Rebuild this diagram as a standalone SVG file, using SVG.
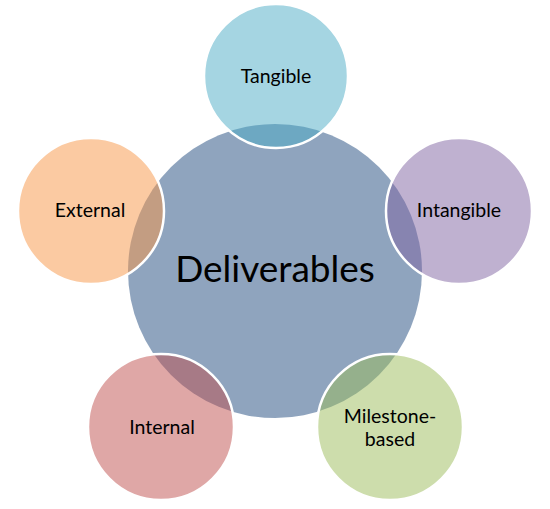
<svg xmlns="http://www.w3.org/2000/svg" width="550" height="509" viewBox="0 0 550 509">
<style>
.sat{stroke:#fff;stroke-width:2.5;fill-opacity:0.5}
.t{font-family:Lato,"Open Sans","Liberation Sans",sans-serif;font-size:19.5px;fill:#000;text-anchor:middle}
.big{font-family:Lato,"Open Sans","Liberation Sans",sans-serif;font-size:37px;fill:#000;text-anchor:middle}
</style>
<rect width="550" height="509" fill="#fff"/>
<g id="deliverables">
<circle cx="275" cy="271" r="147" fill="#1F497D" fill-opacity="0.5"/>
<text class="big" x="275" y="282">Deliverables</text>
</g>
<g id="connectors"></g>
<g id="tangible">
<circle class="sat" cx="276" cy="76" r="72" fill="#4BACC6"/>
<text class="t" x="276" y="83">Tangible</text>
</g>
<g id="intangible">
<circle class="sat" cx="459" cy="211" r="73" fill="#8064A2"/>
<text class="t" x="459" y="217">Intangible</text>
</g>
<g id="milestone">
<circle class="sat" cx="390" cy="427" r="73" fill="#9BBB59"/>
<text class="t" x="390" y="423">Milestone-</text>
<text class="t" x="390" y="446">based</text>
</g>
<g id="internal">
<circle class="sat" cx="161" cy="427" r="73" fill="#C0504D"/>
<text class="t" x="162" y="434">Internal</text>
</g>
<g id="external">
<circle class="sat" cx="91" cy="211" r="73" fill="#F79646"/>
<text class="t" x="90" y="217">External</text>
</g>
</svg>
